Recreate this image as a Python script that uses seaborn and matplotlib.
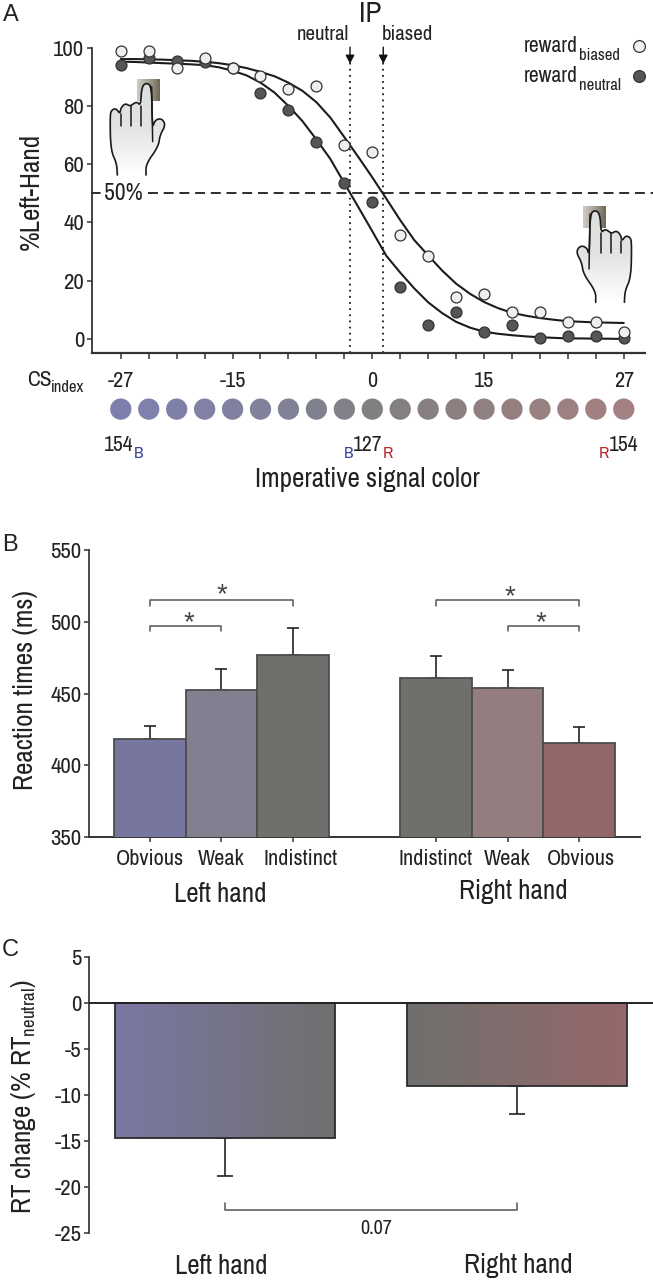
import numpy as np
import pandas as pd
import matplotlib
matplotlib.use("Agg")
import matplotlib.pyplot as plt
from matplotlib.colors import LinearSegmentedColormap
from matplotlib.patches import Polygon
from matplotlib.transforms import ScaledTranslation
import seaborn as sns

# ---------- Panel A data ----------
cs_index = [-27, -24, -21, -18, -15, -12, -9, -6, -3, 0, 3, 6, 9, 12, 15, 18, 21, 24, 27]
pts_biased = [98.9, 98.9, 92.9, 96.5, 92.9, 90.3, 85.7, 87.0, 66.7, 64.2, 35.7, 28.5, 14.3, 15.4, 9.4, 9.4, 5.8, 5.8, 2.4]
pts_neutral = [94.1, 96.3, 95.4, 95.0, 92.9, 84.6, 78.6, 67.8, 53.5, 47.0, 17.8, 4.7, 9.4, 2.3, 4.7, 0.3, 1.1, 1.1, 0.2]
curve_x = [-27, -25.5, -24, -22.5, -21, -19.5, -18, -16.5, -15, -13.5, -12, -10.5, -9, -7.5, -6, -4.5, -3, -1.5,
           0, 1.5, 3, 4.5, 6, 7.5, 9, 10.5, 12, 13.5, 15, 16.5, 18, 19.5, 21, 22.5, 24, 25.5, 27]
curve_biased = [96.1, 96.1, 96.0, 95.9, 95.7, 95.5, 95.2, 94.7, 94.0, 93.0, 91.7, 90.2, 88.0, 85.2, 81.3, 76.0, 69.3, 62.5,
                55.5, 48.2, 40.8, 34.0, 28.7, 23.5, 19.0, 15.5, 12.7, 10.6, 9.0, 8.0, 7.2, 6.6, 6.1, 5.9, 5.7, 5.6, 5.5]
curve_neutral = [95.2, 95.1, 94.9, 94.7, 94.5, 94.3, 94.0, 93.3, 92.1, 90.5, 88.0, 84.6, 80.0, 74.8, 68.5, 61.8, 53.5, 45.3,
                 37.0, 28.6, 22.8, 17.4, 12.6, 8.9, 5.9, 3.9, 2.5, 1.8, 1.3, 0.9, 0.6, 0.4, 0.2, 0.2, 0.1, 0.1, 0.0]
cs_colors = ["#7f7fae", "#7f80ab", "#7f80a8", "#8081a4", "#8081a0", "#80819a", "#808194", "#80818e", "#808188", "#808080",
             "#858080", "#888080", "#8c8080", "#908080", "#958081", "#998081", "#9d8081", "#a08081", "#a58082"]
# the reference prints "15" under the 14th of the 19 ticks
cs_tick_labels = ["-27", "", "", "", "-15", "", "", "", "", "0", "", "", "", "15", "", "", "", "", "27"]
ip_neutral, ip_biased = -2.39, 1.18

# ---------- Panel B data ----------
rt_slots = ["L1", "L2", "L3", "gap", "R1", "R2", "R3"]
rt_keys = ["L1", "L2", "L3", "R1", "R2", "R3"]
rt_values = [418.3, 452.4, 477.0, 460.6, 453.8, 415.3]
rt_err_top = [427.4, 466.8, 495.6, 476.0, 466.6, 426.9]
rt_labels = ["Obvious", "Weak", "Indistinct", "", "Indistinct", "Weak", "Obvious"]
rt_colors = ["#77769f", "#817f90", "#6f706c", "#6f706c", "#937d7e", "#936667"]

# ---------- Panel C data ----------
hands = ["Left hand", "Right hand"]
change_values = [-14.65, -9.0]
change_err_end = [-18.87, -12.05]
grad_left = ["#7b78a4", "#6f706e"]
grad_right = ["#6f706e", "#96686a"]

# ---------- Style ----------
W, H = 653, 1280
sns.set_theme(style="ticks")
NARROW = ["Archivo Narrow", "Liberation Sans"]
REG = ["Liberation Sans"]
plt.rcParams.update({
    "font.family": NARROW, "axes.unicode_minus": False,
    "mathtext.fontset": "custom", "mathtext.rm": "Archivo Narrow",
    "mathtext.default": "rm",
    "text.color": "#222222", "axes.edgecolor": "#333333",
    "xtick.color": "#333333", "ytick.color": "#333333",
    "xtick.labelcolor": "#222222", "ytick.labelcolor": "#222222",
})
fig = plt.figure(figsize=(W / 100, H / 100), dpi=100, facecolor="white")


def axpx(l, t, r, b):
    return fig.add_axes([l / W, 1 - b / H, (r - l) / W, (b - t) / H], facecolor="none")


# ---------- Panel A ----------
axA = axpx(92, 47.7, 645, 352.7)
sns.lineplot(x=curve_x, y=curve_neutral, color="#1c1c1c", lw=1.5, ax=axA, zorder=2)
sns.lineplot(x=curve_x, y=curve_biased, color="#1c1c1c", lw=1.5, ax=axA, zorder=2)
sns.scatterplot(x=cs_index, y=pts_neutral, s=62, color="#555555", edgecolor="#333333", linewidth=0.9,
                ax=axA, zorder=3, clip_on=False)
sns.scatterplot(x=cs_index, y=pts_biased, s=62, color="#efefef", edgecolor="#333333", linewidth=0.9,
                ax=axA, zorder=4, clip_on=False)
axA.set_xlim(-30.09, 29.28)
axA.set_ylim(-4.7, 100)
axA.set_yticks([0, 20, 40, 60, 80, 100])
axA.set_xticks(cs_index)
axA.set_xticklabels(cs_tick_labels)
axA.tick_params(axis="x", length=4.5, width=1.1, pad=9, labelsize=16)
axA.tick_params(axis="y", length=3.5, width=1.1, pad=2, labelsize=16.5)
axA.set_xlabel("")
axA.set_ylabel("")
sns.despine(ax=axA)
axA.spines["bottom"].set_linewidth(1.6)
axA.spines["left"].set_linewidth(1.3)
axA.axhline(50, xmin=(148 - 92) / 553, xmax=(653 - 92) / 553, color="#1c1c1c", lw=1.3, dashes=(5.5, 3.2), clip_on=False)
axA.plot([-30.09, -29.2], [50, 50], color="#1c1c1c", lw=1.3, clip_on=False)
for ip in (ip_neutral, ip_biased):
    axA.plot([ip, ip], [-4.7, 95], color="#1c1c1c", lw=1.3, ls=(0, (1, 2.4)), zorder=1)
    axA.annotate("", xy=(ip, 94.5), xytext=(ip, 100.2), annotation_clip=False,
                 arrowprops=dict(arrowstyle="-|>,head_width=0.22,head_length=0.42", color="#111111", lw=1.0,
                                 shrinkA=0, shrinkB=0))
# colour strip under the axis, on the same CS scale
axA.scatter(cs_index, [-0.185 for _ in cs_index], s=235, c=cs_colors, linewidths=0,
            transform=axA.get_xaxis_transform(), clip_on=False)

# ---------- Panel B ----------
axB = axpx(89, 550, 640, 837)
dfB = pd.DataFrame({"slot": rt_keys, "rt": rt_values})
sns.barplot(data=dfB, x="slot", y="rt", order=rt_slots, hue="slot", palette=dict(zip(rt_keys, rt_colors)),
            legend=False, width=1.0, saturation=1, edgecolor="#4d4d4d", linewidth=1.3, ax=axB, zorder=3)
axB.set_xlim(-0.853, 6.853)
axB.set_ylim(350, 550)
pos = [rt_slots.index(k) for k in rt_keys]
axB.errorbar(pos, rt_values, yerr=[[0] * 6, np.array(rt_err_top) - np.array(rt_values)], fmt="none",
             ecolor="#222222", elinewidth=1.2, capsize=4.5, capthick=1.2, zorder=2)
keep = [0, 1, 2, 4, 5, 6]
axB.set_xticks(keep)
axB.set_xticklabels([rt_labels[i] for i in keep])
axB.set_yticks([350, 400, 450, 500, 550])
axB.tick_params(axis="x", length=3.5, width=1.1, pad=5, labelsize=16)
axB.tick_params(axis="y", length=3.5, width=1.1, pad=2, labelsize=16.5)
lab = axB.get_xticklabels()
lab[2].set_transform(lab[2].get_transform() + ScaledTranslation(8 / 100, 0, fig.dpi_scale_trans))
lab[5].set_transform(lab[5].get_transform() + ScaledTranslation(2 / 100, 0, fig.dpi_scale_trans))
axB.set_xlabel("")
axB.set_ylabel("")
sns.despine(ax=axB)
axB.spines["bottom"].set_linewidth(1.4)
for a, b, top, drop in [(0, 2, 515.4, 511.2), (0, 1, 497.3, 493.3), (4, 6, 515.4, 511.2), (5, 6, 497.3, 493.3)]:
    axB.plot([a, a, b, b], [drop, top, top, drop], color="#555555", lw=1.1)

# ---------- Panel C ----------
axC = axpx(89, 957.3, 653, 1232.7)
dfC = pd.DataFrame({"hand": hands, "change": change_values})
sns.barplot(data=dfC, x="hand", y="change", color="#777777", width=0.752, saturation=1,
            edgecolor="#2b2b2b", linewidth=1.3, ax=axC, zorder=3)
axC.set_xlim(-0.466, 1.465)
axC.set_ylim(-25, 5)
for bar, c0, c1 in zip(axC.patches, grad_left, grad_right):
    cm = LinearSegmentedColormap.from_list("g", [c0, c1])
    x0, w, y0, h = bar.get_x(), bar.get_width(), bar.get_y(), bar.get_height()
    axC.imshow(np.linspace(0, 1, 256)[None, :], cmap=cm, aspect="auto", zorder=2.5,
               extent=(x0, x0 + w, min(y0, y0 + h), max(y0, y0 + h)))
    bar.set_facecolor("none")
axC.set_xlim(-0.466, 1.465)
axC.set_ylim(-25, 5)
axC.errorbar([0, 1], change_values, yerr=[np.array(change_values) - np.array(change_err_end), [0, 0]], fmt="none",
             ecolor="#222222", elinewidth=1.2, capsize=6, capthick=1.2, zorder=2)
axC.axhline(0, color="#222222", lw=1.4, zorder=4)
axC.set_yticks([-25, -20, -15, -10, -5, 0, 5])
axC.set_xticks([])
axC.tick_params(axis="y", length=3.5, width=1.1, pad=2, labelsize=16.5)
axC.set_xlabel("")
axC.set_ylabel("")
sns.despine(ax=axC, bottom=True)
axC.plot([0, 0, 1, 1], [-21.75, -22.5, -22.5, -21.75], color="#555555", lw=1.1)

# ---------- Overlay: free text and hand icons, in picture pixels ----------
ov = fig.add_axes([0, 0, 1, 1], facecolor="none", zorder=10)
ov.set_xlim(0, W)
ov.set_ylim(H, 0)
ov.axis("off")


def T(x, y, s, size=16, ha="center", va="center", fam=NARROW, **kw):
    ov.text(x, y, s, fontsize=size, ha=ha, va=va, family=fam, **kw)


T(11, 15, "A", 17, fam=REG)
T(10, 545, "B", 17, fam=REG)
T(10, 950, "C", 17, fam=REG)
T(370, 13, "IP", 21)
T(323, 35, "neutral", 15)
T(407.5, 35, "biased", 15)
T(123, 193, "50%", 17)
T(524, 46, "reward", 15.5, ha="left")
T(579, 55, "biased", 12, ha="left")
T(524, 76, "reward", 15.5, ha="left")
T(579, 85, "neutral", 12, ha="left")
ov.scatter([639], [46], s=72, c="#efefef", edgecolors="#333333", linewidths=0.9)
ov.scatter([639], [76], s=72, c="#555555", edgecolors="#333333", linewidths=0.9)
T(27, 380, "CS", 15.5, ha="left")
T(51, 387, "index", 12, ha="left")
T(104, 445, "154", 15.5, ha="left")
T(134, 453, "B", 12.5, ha="left", color="#3b4a9c")
T(344, 453, "B", 12.5, ha="left", color="#3b4a9c")
T(368, 445, "127", 15.5)
T(383, 453, "R", 12.5, ha="left", color="#b8282f")
T(599, 453, "R", 12.5, ha="left", color="#b8282f")
T(624, 445, "154", 15.5)
T(367, 480, "Imperative signal color", 19.5)
T(31, 191, "%Left-Hand", 19.5, rotation=90)
T(26, 690, "Reaction times (ms)", 19.5, rotation=90)
T(24, 1097, r"RT change (% RT$_{\mathrm{neutral}}$)", 19.5, rotation=90)
T(220, 895, "Left hand", 19.5)
T(513, 892, "Right hand", 19.5)
T(221, 1267, "Left hand", 19.5)
T(518, 1265, "Right hand", 19.5)
T(376, 1228, "0.07", 14.6)
for sx, sy in [(222, 595), (189, 623), (510, 597), (541, 623)]:
    T(sx, sy, "*", 20, fam=REG, color="#444444")

hand_outline = [(82, 405), (80, 370), (62, 330), (60, 225), (65, 210), (78, 205), (90, 222), (92, 205), (105, 190), (120, 198),
                (125, 195), (140, 185), (152, 197), (155, 140), (170, 128), (185, 140), (187, 265), (195, 240), (215, 235),
                (227, 255), (210, 285), (205, 320), (168, 372), (168, 405)]
finger_lines = [[(92, 222), (92, 258)], [(123, 198), (123, 258)], [(153, 197), (153, 258)], [(185, 140), (188, 305)]]
button = (140, 118, 207, 182)
hand_grad = LinearSegmentedColormap.from_list("h", ["#dcdddd", "#e3e4e4", "#ffffff"])
button_grad = LinearSegmentedColormap.from_list("b", ["#cfcbc4", "#a8a297", "#6f6858"])


def smooth(p, n=2):
    p = np.array(p, float)
    for _ in range(n):
        q = [p[0]]
        for a, b in zip(p[:-1], p[1:]):
            q += [0.75 * a + 0.25 * b, 0.25 * a + 0.75 * b]
        q.append(p[-1])
        p = np.array(q)
    return p


def hand(mapf, flip):
    bx0, by0, bx1, by1 = button
    (x0, y0), (x1, y1) = mapf(np.array([[bx0, by0]]))[0], mapf(np.array([[bx1, by1]]))[0]
    ov.imshow(np.linspace(0, 1, 32)[None, :], cmap=button_grad, aspect="auto", zorder=1,
              extent=(min(x0, x1), max(x0, x1), y1, y0))
    out = mapf(smooth(hand_outline))
    poly = Polygon(out, closed=True, fc="none", ec="none", transform=ov.transData)
    ov.add_patch(poly)
    im = ov.imshow(np.linspace(0, 1, 64)[:, None], cmap=hand_grad, aspect="auto", zorder=2,
                   extent=(out[:, 0].min(), out[:, 0].max(), out[:, 1].max(), out[:, 1].min()))
    im.set_clip_path(poly)
    ov.plot(out[:, 0], out[:, 1], color="#1a1a1a", lw=1.2, zorder=3, solid_joinstyle="round")
    for fl in finger_lines:
        f = mapf(np.array(fl, float))
        ov.plot(f[:, 0], f[:, 1], color="#1a1a1a", lw=1.1, zorder=3)


hand(lambda p: np.c_[90 + p[:, 0] / 3, 40 + p[:, 1] / 3], False)
hand(lambda p: np.c_[595 + 146.7 - (90 + p[:, 0] / 3), 40 + p[:, 1] / 3 + 127.3], True)
ov.set_xlim(0, W)
ov.set_ylim(H, 0)

fig.savefig("out.png", dpi=100, facecolor="white")
